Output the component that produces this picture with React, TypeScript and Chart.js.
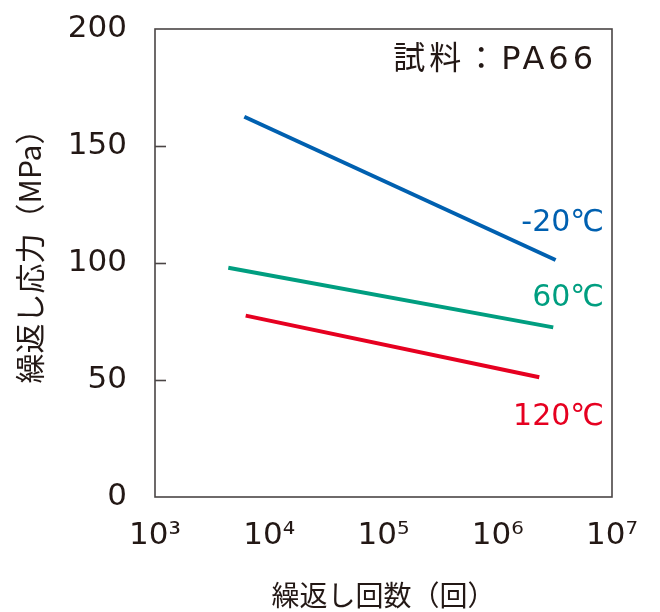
import React, { useEffect, useRef } from "react";
import { Chart, registerables } from "chart.js";

Chart.register(...registerables);

const seriesNames = ["-20℃", "60℃", "120℃"];
const seriesColors = ["#0060B0", "#009E80", "#E60020"];
const cyclesM20 = [6050, 3210000];
const stressM20 = [162.5, 101.3];
const cycles60 = [4380, 3060000];
const stress60 = [98.0, 72.5];
const cycles120 = [6220, 2310000];
const stress120 = [77.5, 51.2];
const xTickValues = [1e3, 1e4, 1e5, 1e6, 1e7];
const xTickLabels = ["10³", "10⁴", "10⁵", "10⁶", "10⁷"];
const yTickValues = [0, 50, 100, 150, 200];
const xTitle = "繰返し回数（回）";
const yTitle = "繰返し応力（MPa）";
const sampleLabel = "試料：PA66";

const FONT = "'Noto Sans CJK JP', 'Noto Sans', sans-serif";
const NUMFONT = "'DejaVu Sans', 'Noto Sans CJK JP', sans-serif";
const TEXT = "#231815";

const toPoints = (xs: number[], ys: number[]) => xs.map((x, i) => ({ x, y: ys[i] }));

const decorPlugin = {
  id: "decor",
  afterDraw(chart: any) {
    const { ctx, chartArea } = chart;
    const { left, right, top, bottom } = chartArea;
    const yScale = chart.scales.y;
    ctx.save();
    ctx.strokeStyle = "#4a4545";
    ctx.lineWidth = 1.6;
    ctx.strokeRect(left, top, right - left, bottom - top);
    yTickValues.slice(1, -1).forEach((v) => {
      const py = Math.round(yScale.getPixelForValue(v)) + 0.5;
      ctx.beginPath();
      ctx.moveTo(left, py);
      ctx.lineTo(left + 11, py);
      ctx.stroke();
    });
    ctx.fillStyle = TEXT;
    ctx.font = `30px ${FONT}`;
    ctx.textAlign = "center";
    ctx.textBaseline = "middle";
    ctx.translate(30, 249);
    ctx.rotate(-Math.PI / 2);
    ctx.fillText(yTitle, 0, 0);
    ctx.restore();

    ctx.save();
    ctx.textAlign = "right";
    ctx.textBaseline = "middle";
    ctx.fillStyle = TEXT;
    ctx.font = `32px ${NUMFONT}`;
    (ctx as any).letterSpacing = "4px";
    ctx.fillText(sampleLabel, right - 15, top + 32);
    (ctx as any).letterSpacing = "0px";
    const labelY = [223, 298, 417];
    ctx.font = `30px ${NUMFONT}`;
    seriesNames.forEach((n, i) => {
      ctx.fillStyle = seriesColors[i];
      ctx.fillText(n, right - 8, labelY[i]);
    });
    ctx.restore();
  },
};

export default function App() {
  const ref = useRef<HTMLCanvasElement | null>(null);
  useEffect(() => {
    if (!ref.current) return;
    const lineDs = (label: string, data: any, color: string) => ({
      label,
      data,
      borderColor: color,
      backgroundColor: color,
      borderWidth: 4,
      borderCapStyle: "butt" as const,
      pointRadius: 0,
      showLine: true,
      fill: false,
    });
    const chart = new Chart(ref.current, {
      type: "scatter",
      data: {
        datasets: [
          lineDs(seriesNames[0], toPoints(cyclesM20, stressM20), seriesColors[0]),
          lineDs(seriesNames[1], toPoints(cycles60, stress60), seriesColors[1]),
          lineDs(seriesNames[2], toPoints(cycles120, stress120), seriesColors[2]),
        ],
      },
      options: {
        responsive: false,
        animation: false,
        devicePixelRatio: 1,
        layout: { padding: { top: 29, right: 48, left: 0, bottom: 0 } },
        plugins: { legend: { display: false }, tooltip: { enabled: false } },
        scales: {
          x: {
            type: "logarithmic",
            min: 1e3,
            max: 1e7,
            grid: { display: false, drawTicks: false },
            border: { display: false },
            afterBuildTicks: (scale: any) => {
              scale.ticks = xTickValues.map((v) => ({ value: v }));
            },
            afterFit: (scale: any) => {
              scale.height = 115;
              scale.paddingLeft = 0;
              scale.paddingRight = 0;
            },
            ticks: {
              autoSkip: false,
              maxRotation: 0,
              padding: 20,
              color: TEXT,
              font: { family: NUMFONT, size: 31 },
              callback: (v: any) => {
                const i = xTickValues.indexOf(Number(v));
                return i >= 0 ? xTickLabels[i] : "";
              },
            },
            title: {
              display: true,
              text: xTitle,
              color: TEXT,
              font: { family: FONT, size: 28 },
              padding: { top: 14, bottom: 0 },
            },
          },
          y: {
            min: 0,
            max: 200,
            grid: { display: false, drawTicks: false },
            border: { display: false },
            afterBuildTicks: (scale: any) => {
              scale.ticks = yTickValues.map((v) => ({ value: v }));
            },
            afterFit: (scale: any) => {
              scale.width = 155;
              scale.paddingTop = 0;
              scale.paddingBottom = 0;
            },
            ticks: {
              padding: 28,
              color: TEXT,
              font: { family: NUMFONT, size: 31 },
            },
          },
        },
      },
      plugins: [decorPlugin],
    });
    return () => chart.destroy();
  }, []);
  return (
    <div style={{ position: "absolute", left: 0, top: 0, width: 660, height: 612, background: "#fff" }}>
      <canvas ref={ref} width={660} height={612} />
    </div>
  );
}
